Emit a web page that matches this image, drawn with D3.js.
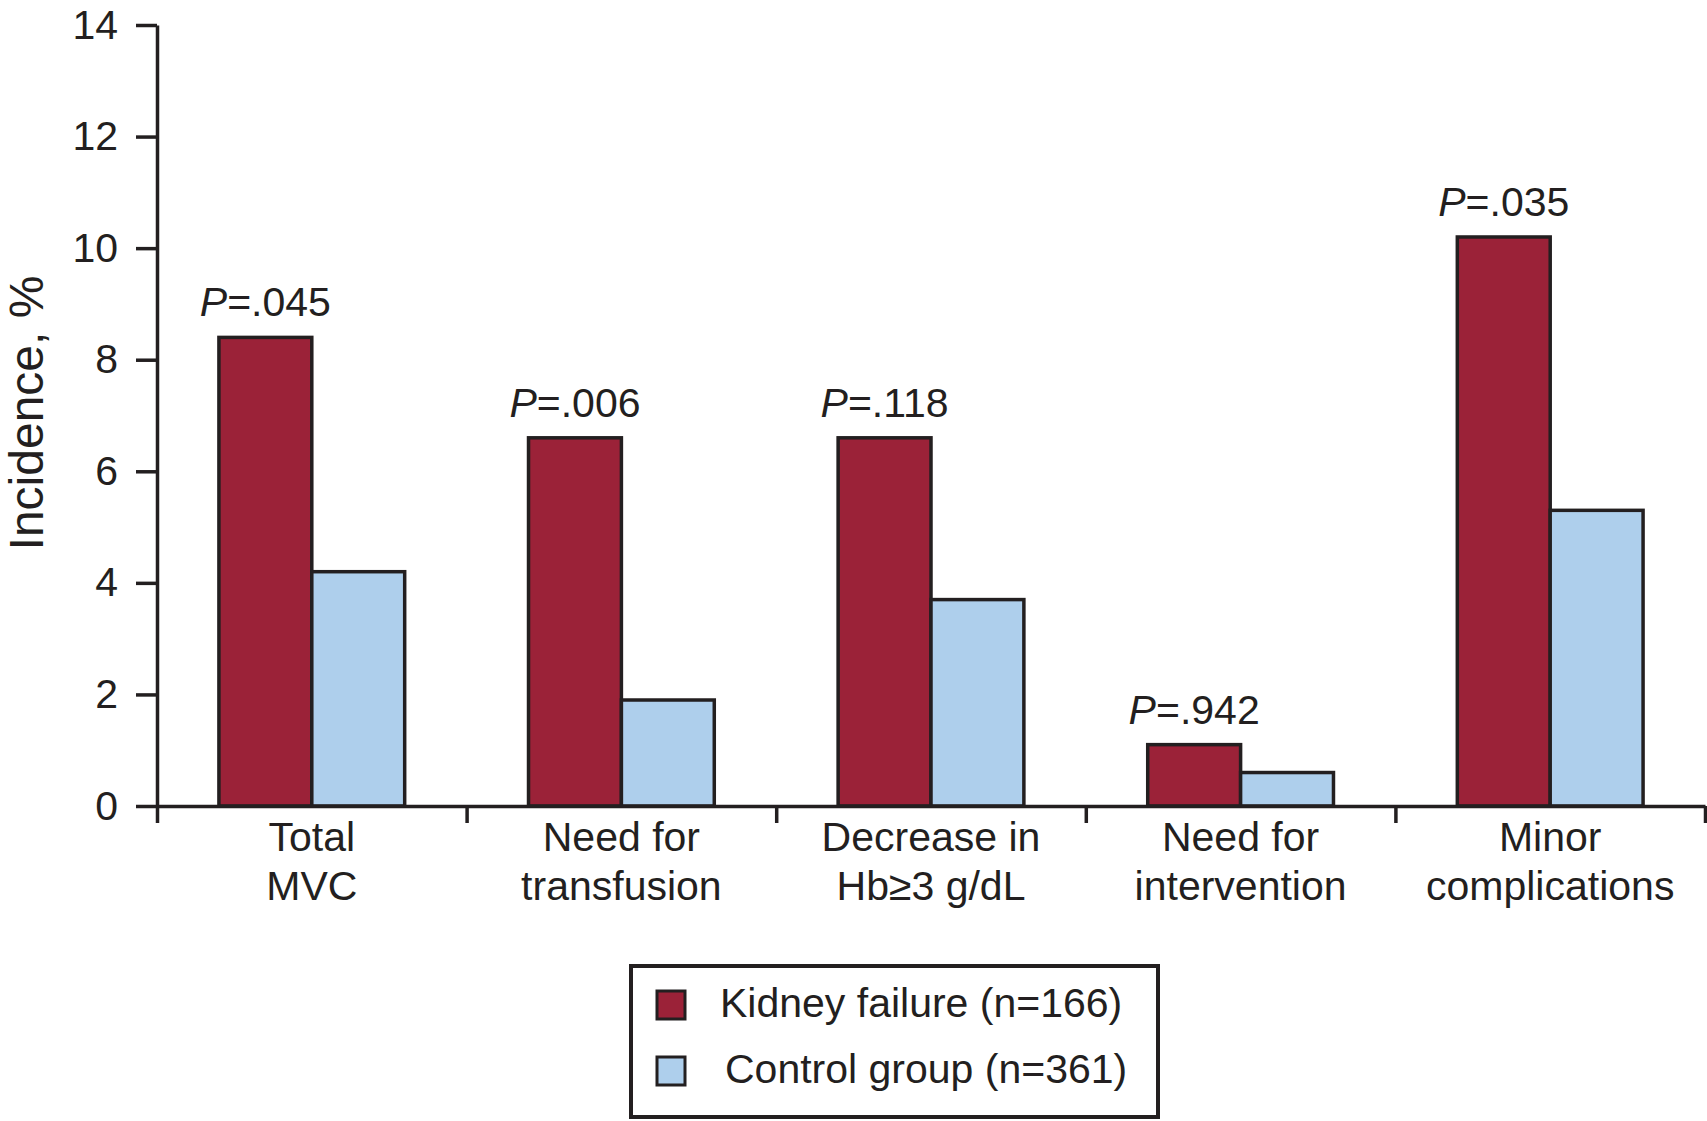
<!DOCTYPE html>
<html lang="en">
<head>
  <meta charset="UTF-8">
  <title>Incidence of complications</title>
  <style>
    body {
      margin: 0;
      background: #fff;
    }

    svg {
      display: block;
      font-family: "Liberation Sans", Arial, Helvetica, sans-serif;
    }

    .axis path,
    .axis line {
      stroke: #231f20;
      stroke-width: 3.5px;
    }

    .axis text {
      fill: #231f20;
      font-size: 41px;
    }
  </style>
  <script src="https://d3js.org/d3.v7.min.js"></script>
</head>
<body>
  <div id="chart"></div>

  <script>
    // Data
    const categoryLines = [
      ['Total', 'MVC'],
      ['Need for', 'transfusion'],
      ['Decrease in', 'Hb\u22653 g/dL'],
      ['Need for', 'intervention'],
      ['Minor', 'complications']
    ];
    const categories = categoryLines.map(d => d.join(' '));
    const seriesNames = ['Kidney failure (n=166)', 'Control group (n=361)'];
    const kidneyValues = [8.4, 6.6, 6.6, 1.1, 10.2];
    const controlValues = [4.2, 1.9, 3.7, 0.6, 5.3];
    const pValues = ['.045', '.006', '.118', '.942', '.035'];
    const yTicks = [0, 2, 4, 6, 8, 10, 12, 14];
    const colors = ['#9b2238', '#aecfec'];

    const width = 1707;
    const height = 1121;
    const margin = { top: 25, right: 2, bottom: 315, left: 157 };
    const ink = '#231f20';

    const svg = d3.select('#chart')
      .append('svg')
      .attr('width', width)
      .attr('height', height);

    const x = d3.scaleBand()
      .domain(categories)
      .range([margin.left, width - margin.right]);

    const bw = x.bandwidth();
    const x1 = d3.scaleBand()
      .domain(seriesNames)
      .range([bw * 0.2, bw * 0.8]);

    const y = d3.scaleLinear()
      .domain([0, 14])
      .range([height - margin.bottom, margin.top]);

    // Bars
    const rows = categories.map((c, i) => ({
      category: c,
      values: [kidneyValues[i], controlValues[i]],
      p: pValues[i]
    }));

    const groups = svg.append('g')
      .selectAll('g')
      .data(rows)
      .enter()
      .append('g')
      .attr('transform', d => `translate(${x(d.category)},0)`);

    groups.selectAll('rect')
      .data(d => d.values.map((v, j) => ({ name: seriesNames[j], value: v, j })))
      .enter()
      .append('rect')
      .attr('x', d => x1(d.name))
      .attr('y', d => y(d.value))
      .attr('width', x1.bandwidth())
      .attr('height', d => y(0) - y(d.value))
      .attr('fill', d => colors[d.j])
      .attr('stroke', ink)
      .attr('stroke-width', 3.5);

    // P-value labels over the kidney failure bars
    const pLabel = groups.append('text')
      .attr('x', x1(seriesNames[0]) + x1.bandwidth() / 2)
      .attr('y', d => y(d.values[0]) - 21)
      .attr('text-anchor', 'middle')
      .attr('fill', ink)
      .style('font-size', '41px');

    pLabel.append('tspan')
      .style('font-style', 'italic')
      .text('P');
    pLabel.append('tspan')
      .text(d => '=' + d.p);

    // Y axis
    svg.append('g')
      .attr('class', 'axis')
      .attr('transform', `translate(${margin.left},0)`)
      .call(d3.axisLeft(y)
        .tickValues(yTicks)
        .tickSize(21)
        .tickSizeOuter(0)
        .tickPadding(18));

    // X axis: ticks sit on the group boundaries
    const xBound = d3.scaleLinear()
      .domain([0, categories.length])
      .range(x.range());

    svg.append('g')
      .attr('class', 'axis')
      .attr('transform', `translate(0,${y(0)})`)
      .call(d3.axisBottom(xBound)
        .tickValues(d3.range(categories.length + 1))
        .tickFormat('')
        .tickSize(17)
        .tickSizeOuter(0));

    // Category labels
    svg.append('g')
      .selectAll('text')
      .data(categoryLines)
      .enter()
      .append('text')
      .attr('text-anchor', 'middle')
      .attr('fill', ink)
      .style('font-size', '41px')
      .each(function (lines, i) {
        d3.select(this).selectAll('tspan')
          .data(lines)
          .enter()
          .append('tspan')
          .attr('x', x(categories[i]) + bw / 2)
          .attr('y', (d, k) => y(0) + 45 + k * 49)
          .text(d => d);
      });

    // Y axis title
    svg.append('text')
      .attr('transform', 'translate(43,413) rotate(-90)')
      .attr('text-anchor', 'middle')
      .attr('fill', ink)
      .style('font-size', '48px')
      .text('Incidence, %');

    // Legend
    const legend = svg.append('g')
      .attr('transform', 'translate(631,966)');

    legend.append('rect')
      .attr('width', 527)
      .attr('height', 151)
      .attr('fill', '#fff')
      .attr('stroke', ink)
      .attr('stroke-width', 4);

    const item = legend.selectAll('.item')
      .data(seriesNames)
      .enter()
      .append('g')
      .attr('class', 'item')
      .attr('transform', (d, i) => `translate(26,${25 + i * 66})`);

    item.append('rect')
      .attr('width', 28)
      .attr('height', 28)
      .attr('fill', (d, i) => colors[i])
      .attr('stroke', ink)
      .attr('stroke-width', 3);

    item.append('text')
      .attr('x', (d, i) => 63 + i * 5)
      .attr('y', 26)
      .attr('fill', ink)
      .style('font-size', '41px')
      .text(d => d);
  </script>
</body>
</html>
